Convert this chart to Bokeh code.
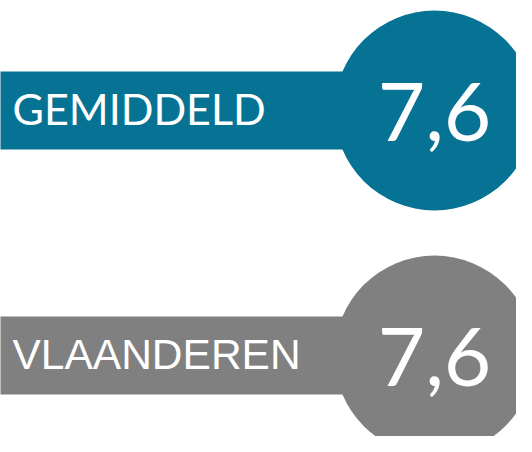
from bokeh.plotting import figure
from bokeh.models import Range1d
from bokeh.core.properties import value
from bokeh.embed import file_html
from bokeh.resources import INLINE

categories = ["GEMIDDELD", "VLAANDEREN"]
scores = [7.6, 7.6]
colors = ["#067394", "#808080"]
label_fonts = ["Lato", "Liberation Sans"]
label_sizes = ["43px", "42.5px"]
label_dy = [-2, -1]

score_labels = [f"{v:.1f}".replace(".", ",") for v in scores]

W, H = 516, 436
p = figure(width=W, height=H, output_backend="svg", toolbar_location=None,
           x_range=Range1d(0, W), y_range=Range1d(H, 0),
           min_border=0)
p.axis.visible = False
p.grid.visible = False
p.outline_line_color = None
p.background_fill_color = "white"
p.border_fill_color = "white"

cx = 434
for i, (cat, lab, col, fnt, fs, dy) in enumerate(zip(categories, score_labels, colors,
                                                     label_fonts, label_sizes, label_dy)):
    cy = 110 + i * 245
    p.quad(left=-20, right=cx, top=cy - 39, bottom=cy + 39, fill_color=col, line_color=None)
    p.circle(x=cx, y=cy, radius=100, fill_color=col, line_color=None)
    p.text(x=[12], y=[cy + dy], text=[cat], text_color="white", text_font=value(fnt),
           text_font_size=fs, text_baseline="middle", text_align="left")
    p.text(x=[cx], y=[cy + 1.5], text=[lab], text_color="white", text_font=value("Lato"),
           text_font_size="82px", text_baseline="middle", text_align="center")

open("out.html", "w").write(file_html(p, INLINE))
